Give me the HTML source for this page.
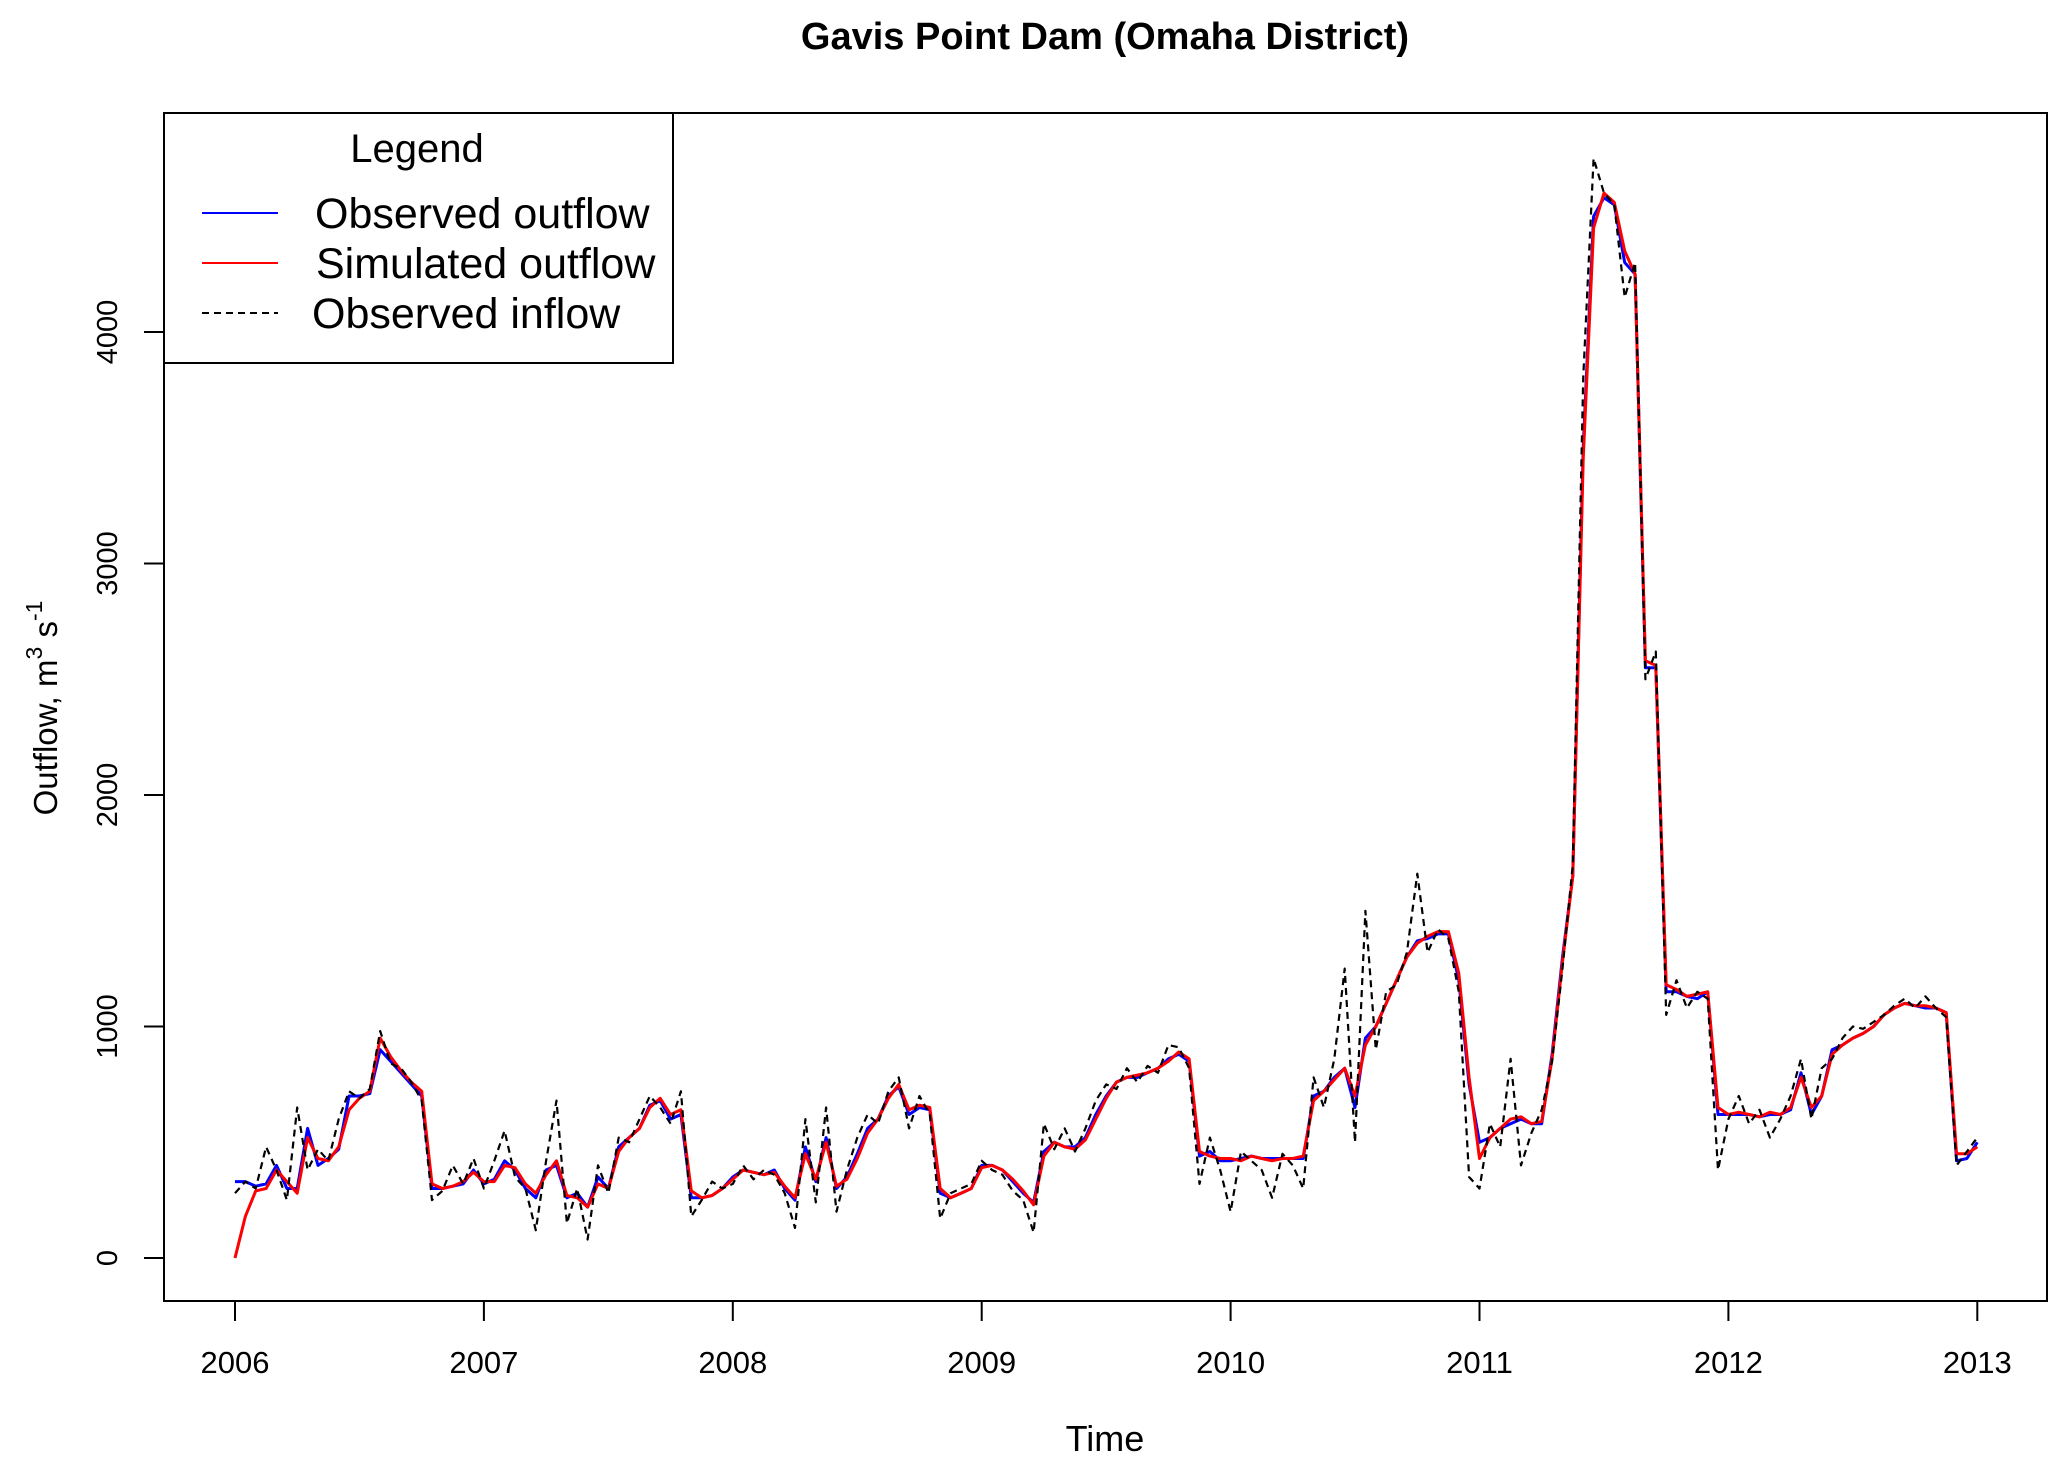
<!DOCTYPE html>
<html><head><meta charset="utf-8"><style>
html,body{margin:0;padding:0;background:#fff;}
svg{display:block;font-family:"Liberation Sans",Arial,sans-serif;}
</style></head><body>
<svg id="chart" width="2067" height="1475" viewBox="0 0 2067 1475" xmlns="http://www.w3.org/2000/svg">
<rect width="2067" height="1475" fill="#fff"/>
<text x="1105" y="49" text-anchor="middle" font-size="38" font-weight="bold">Gavis Point Dam (Omaha District)</text>
<g id="series"></g>
<g id="axes"></g>
<rect x="164" y="113" width="1883" height="1188" fill="none" stroke="#000" stroke-width="2"/>
<text x="1105" y="1451" text-anchor="middle" font-size="36">Time</text>
<text transform="translate(57,708) rotate(-90)" text-anchor="middle" font-size="33">Outflow,  m<tspan dy="-15" font-size="23">3</tspan><tspan dy="15"> s</tspan><tspan dy="-15" font-size="23">-1</tspan></text>
<g>
<rect x="164" y="113" width="509" height="250" fill="#fff" stroke="#000" stroke-width="2"/>
<text x="417" y="162" text-anchor="middle" font-size="40">Legend</text>
<line x1="202" y1="213" x2="278" y2="213" stroke="#0000ff" stroke-width="2"/>
<text x="315" y="228" font-size="43">Observed outflow</text>
<line x1="202" y1="263" x2="278" y2="263" stroke="#ff0000" stroke-width="2"/>
<text x="316" y="278" font-size="43">Simulated outflow</text>
<line x1="202" y1="313" x2="278" y2="313" stroke="#000" stroke-width="2" stroke-dasharray="7,5"/>
<text x="312" y="328" font-size="43">Observed inflow</text>
</g>
</svg>
<script>
const xTickLabels = ["2006","2007","2008","2009","2010","2011","2012","2013"];
const yTickValues = [0,1000,2000,3000,4000];
const startYear = 2006;
const stepsPerYear = 24;
const observedOutflow = [
330,330,310,320,400,300,300,560,400,430,470,700,700,710,900,850,800,750,700,300,300,310,320,380,
320,340,420,380,300,260,380,400,260,280,220,350,300,480,520,560,660,680,600,620,260,260,270,300,
350,380,370,360,380,300,250,480,330,520,300,350,450,560,600,700,740,620,650,640,280,260,280,300,
400,400,380,330,280,240,460,500,480,480,520,620,700,760,780,780,800,820,860,880,850,440,460,420,
420,430,440,430,430,430,430,430,700,720,780,820,650,950,1000,1100,1200,1300,1370,1380,1400,1400,1200,750,
500,520,560,580,600,580,580,880,1300,1650,3500,4500,4580,4550,4300,4250,2550,2550,1150,1150,1130,1120,1150,620,
620,620,620,610,620,620,640,800,620,700,900,920,950,970,1000,1050,1080,1100,1090,1080,1080,1060,420,430,
500];
const simulatedOutflow = [
0,180,290,300,380,330,280,520,430,420,480,640,690,720,950,870,810,760,720,320,300,310,330,370,
330,330,400,390,320,280,360,420,270,260,220,320,300,460,520,560,650,690,620,640,290,260,270,300,
340,380,370,360,370,310,260,450,340,500,310,340,430,540,600,690,750,640,660,650,300,260,280,300,
390,400,380,340,290,230,440,500,480,470,510,600,690,760,780,790,800,820,850,890,860,460,440,430,
430,420,440,430,420,430,430,440,680,720,770,820,700,920,1000,1100,1200,1300,1360,1390,1410,1410,1230,780,
430,520,560,600,610,580,590,860,1280,1650,3450,4450,4600,4560,4350,4250,2580,2560,1180,1160,1130,1140,1150,650,
620,630,620,610,630,620,650,780,650,700,880,920,950,970,1000,1050,1080,1100,1090,1090,1080,1060,450,450,
480];
const observedInflow = [
280,330,300,480,380,250,650,380,470,420,600,720,690,730,980,840,820,760,680,250,290,400,320,430,
300,420,550,350,300,120,420,680,150,300,80,400,280,520,500,600,700,650,580,720,180,250,330,300,
320,400,340,380,360,280,130,600,240,650,200,380,520,620,580,720,780,560,700,620,170,280,300,320,
420,380,360,290,250,110,580,470,560,460,560,680,750,730,820,760,830,800,920,910,820,320,520,380,
200,460,420,380,260,450,400,300,780,650,860,1250,500,1500,900,1150,1180,1320,1660,1320,1420,1380,1150,350,
300,580,480,860,400,540,640,850,1250,1700,3800,4750,4600,4550,4150,4300,2500,2620,1050,1200,1080,1150,1120,380,
600,700,580,640,520,600,700,860,600,820,860,950,1000,990,1020,1050,1090,1120,1080,1130,1080,1040,400,460,
520];

const NS = "http://www.w3.org/2000/svg";
function xScale(year){ return 235 + (year - 2006) * 248.9; }
function yScale(v){ return 1258 - v * 0.2315; }
function timeAt(i){ return startYear + i / stepsPerYear; }

const seriesG = document.getElementById('series');
const axesG = document.getElementById('axes');

function drawSeries(vals, color, width, dash, name){
  const pts = vals.map((v,i)=> xScale(timeAt(i)).toFixed(1)+','+yScale(v).toFixed(1)).join(' ');
  const pl = document.createElementNS(NS,'polyline');
  pl.setAttribute('points', pts);
  pl.setAttribute('fill','none');
  pl.setAttribute('stroke', color);
  pl.setAttribute('stroke-width', width);
  pl.setAttribute('stroke-linejoin','round');
  if (dash) pl.setAttribute('stroke-dasharray', dash);
  
  
  seriesG.appendChild(pl);
}
drawSeries(observedOutflow, '#0000ff', 3, null, 'observed-outflow-line');
drawSeries(simulatedOutflow, '#ff0000', 3, null, 'simulated-outflow-line');
drawSeries(observedInflow, '#000', 2.2, '7,5', 'observed-inflow-line');

xTickLabels.forEach(lab=>{
  const x = xScale(parseFloat(lab));
  const ln = document.createElementNS(NS,'line');
  ln.setAttribute('x1',x); ln.setAttribute('x2',x);
  ln.setAttribute('y1',1301); ln.setAttribute('y2',1321);
  ln.setAttribute('stroke','#000'); ln.setAttribute('stroke-width','2');
  
  
  axesG.appendChild(ln);
  const t = document.createElementNS(NS,'text');
  t.setAttribute('x',x); t.setAttribute('y',1373);
  t.setAttribute('text-anchor','middle'); t.setAttribute('font-size','31');
  t.textContent = lab;
  
  
  axesG.appendChild(t);
});
yTickValues.forEach(v=>{
  const y = yScale(v);
  const ln = document.createElementNS(NS,'line');
  ln.setAttribute('x1',144); ln.setAttribute('x2',164);
  ln.setAttribute('y1',y); ln.setAttribute('y2',y);
  ln.setAttribute('stroke','#000'); ln.setAttribute('stroke-width','2');
  
  
  axesG.appendChild(ln);
  const t = document.createElementNS(NS,'text');
  t.setAttribute('transform','translate(117,'+y+') rotate(-90)');
  t.setAttribute('text-anchor','middle'); t.setAttribute('font-size','29');
  t.textContent = String(v);
  
  
  axesG.appendChild(t);
});
</script>
</body></html>
